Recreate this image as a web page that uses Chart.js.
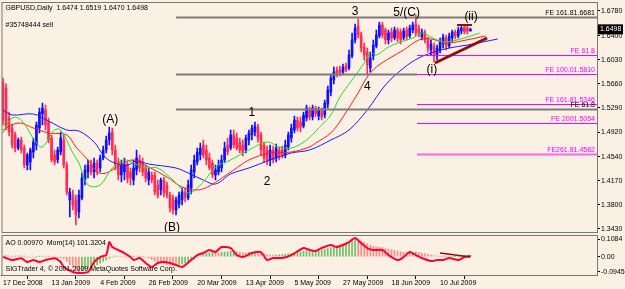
<!DOCTYPE html>
<html>
<head>
<meta charset="utf-8">
<script src="https://cdn.jsdelivr.net/npm/chart.js@4.4.1/dist/chart.umd.min.js"></script>
<style>
html, body { margin: 0; padding: 0; background: #faf0e4; }
#wrap { position: relative; width: 625px; height: 289px; overflow: hidden; background: #faf0e4; }
#main { position: absolute; left: 0; top: 0; }
#sub { position: absolute; left: 0; top: 233px; }
</style>
</head>
<body>
<div id="wrap">
  <canvas id="main" width="625" height="233"></canvas>
  <canvas id="sub" width="625" height="56"></canvas>
</div>
<script>
// GBPUSD daily bars, 17 Dec 2008 .. 23 Jul 2009
const barOpen = [
  1.5689,1.5597,1.5135,1.4982,1.4874,1.4674,1.4797,1.4674,1.4413,1.4459,
  1.4613,1.4720,1.4982,1.5197,1.5258,1.5074,1.4828,1.4567,1.4490,1.4613,
  1.4797,1.4413,1.3875,1.3952,1.3875,1.3691,1.3906,1.4183,1.4305,1.4413,
  1.4305,1.4444,1.4367,1.4521,1.4644,1.4797,1.4920,1.4644,1.4459,1.4260,
  1.4305,1.4413,1.4305,1.4183,1.4336,1.4490,1.4444,1.4367,1.4183,1.4260,
  1.4260,1.4106,1.4029,1.4183,1.4106,1.3952,1.3906,1.3722,1.3814,1.3875,
  1.3998,1.3906,1.4060,1.4305,1.4459,1.4567,1.4720,1.4644,1.4521,1.4444,
  1.4260,1.4305,1.4367,1.4490,1.4720,1.4674,1.4874,1.4828,1.4766,1.4720,
  1.4644,1.4797,1.4874,1.4920,1.4997,1.4874,1.4720,1.4644,1.4490,1.4644,
  1.4521,1.4644,1.4644,1.4567,1.4690,1.4828,1.4951,1.5105,1.5074,1.5013,
  1.5135,1.5258,1.5151,1.5289,1.5166,1.5243,1.5182,1.5350,1.5535,1.5720,
  1.5873,1.5873,1.5842,1.5935,1.5904,1.6088,1.6334,1.6549,1.6411,1.6227,
  1.6150,1.5904,1.6088,1.6242,1.6396,1.6565,1.6488,1.6334,1.6457,1.6365,
  1.6488,1.6457,1.6365,1.6488,1.6396,1.6488,1.6580,1.6519,1.6380,1.6442,
  1.6334,1.6181,1.6242,1.6088,1.6181,1.6273,1.6365,1.6242,1.6365,1.6457,
  1.6396,1.6473,1.6534,1.6519,1.6474
];
const barHigh = [
  1.5750,1.5659,1.5227,1.5044,1.4920,1.4828,1.4843,1.4720,1.4598,1.4674,
  1.4828,1.5074,1.5289,1.5366,1.5335,1.5135,1.4874,1.4644,1.4690,1.4920,
  1.4874,1.4459,1.4060,1.4029,1.3952,1.4029,1.4290,1.4413,1.4490,1.4490,
  1.4521,1.4490,1.4567,1.4705,1.4859,1.4997,1.4982,1.4720,1.4521,1.4490,
  1.4521,1.4459,1.4367,1.4490,1.4644,1.4567,1.4521,1.4413,1.4367,1.4305,
  1.4305,1.4183,1.4213,1.4229,1.4152,1.3998,1.3952,1.3921,1.3998,1.4060,
  1.4060,1.4183,1.4413,1.4567,1.4674,1.4751,1.4797,1.4720,1.4598,1.4490,
  1.4413,1.4490,1.4567,1.4766,1.4828,1.4951,1.4951,1.4905,1.4828,1.4797,
  1.4874,1.4951,1.5028,1.5074,1.5044,1.4920,1.4766,1.4705,1.4720,1.4705,
  1.4736,1.4690,1.4705,1.4797,1.4920,1.5044,1.5166,1.5151,1.5151,1.5227,
  1.5335,1.5304,1.5335,1.5320,1.5304,1.5289,1.5412,1.5627,1.5812,1.5919,
  1.5919,1.5935,1.5965,1.5981,1.6181,1.6442,1.6580,1.6657,1.6457,1.6288,
  1.6211,1.6150,1.6334,1.6488,1.6611,1.6611,1.6519,1.6488,1.6519,1.6534,
  1.6519,1.6503,1.6519,1.6534,1.6565,1.6611,1.6718,1.6565,1.6503,1.6488,
  1.6380,1.6334,1.6288,1.6257,1.6365,1.6426,1.6411,1.6442,1.6488,1.6488,
  1.6534,1.6565,1.6565,1.6549,1.6519
];
const barLow = [
  1.5028,1.4951,1.4859,1.4674,1.4613,1.4644,1.4598,1.4367,1.4336,1.4336,
  1.4521,1.4644,1.4905,1.5028,1.4951,1.4751,1.4459,1.4413,1.4444,1.4567,
  1.4367,1.3952,1.3614,1.3722,1.3491,1.3599,1.3875,1.4106,1.4213,1.4260,
  1.4213,1.4260,1.4305,1.4490,1.4598,1.4720,1.4567,1.4336,1.4183,1.4152,
  1.4183,1.4137,1.4106,1.4106,1.4260,1.4305,1.4244,1.4152,1.4106,1.4137,
  1.3952,1.3906,1.3952,1.3921,1.3906,1.3691,1.3660,1.3645,1.3752,1.3798,
  1.3845,1.3875,1.3967,1.4213,1.4413,1.4490,1.4521,1.4413,1.4336,1.4213,
  1.4183,1.4260,1.4305,1.4444,1.4567,1.4644,1.4674,1.4644,1.4598,1.4551,
  1.4598,1.4720,1.4797,1.4859,1.4766,1.4567,1.4459,1.4413,1.4398,1.4444,
  1.4459,1.4490,1.4521,1.4521,1.4644,1.4766,1.4905,1.4936,1.4920,1.4982,
  1.5089,1.5105,1.5105,1.5151,1.5105,1.5105,1.5135,1.5289,1.5474,1.5658,
  1.5766,1.5781,1.5796,1.5842,1.5873,1.6058,1.6288,1.6365,1.6150,1.6027,
  1.5796,1.5842,1.6027,1.6211,1.6365,1.6365,1.6273,1.6273,1.6303,1.6334,
  1.6303,1.6273,1.6334,1.6334,1.6365,1.6442,1.6396,1.6380,1.6334,1.6288,
  1.6150,1.6104,1.5996,1.6027,1.6134,1.6211,1.6181,1.6211,1.6303,1.6350,
  1.6365,1.6426,1.6426,1.6426,1.6470
];
const barClose = [
  1.5105,1.4997,1.4920,1.4720,1.4674,1.4797,1.4644,1.4413,1.4567,1.4644,
  1.4766,1.5028,1.5227,1.5289,1.5028,1.4797,1.4490,1.4459,1.4644,1.4828,
  1.4413,1.3998,1.3998,1.3798,1.3645,1.3952,1.4213,1.4336,1.4413,1.4305,
  1.4444,1.4336,1.4521,1.4644,1.4797,1.4905,1.4644,1.4413,1.4260,1.4413,
  1.4413,1.4213,1.4213,1.4367,1.4521,1.4367,1.4305,1.4213,1.4305,1.4183,
  1.3998,1.3952,1.4183,1.3983,1.3952,1.3752,1.3722,1.3875,1.3952,1.3998,
  1.3906,1.4106,1.4336,1.4490,1.4613,1.4674,1.4567,1.4490,1.4367,1.4260,
  1.4336,1.4413,1.4490,1.4674,1.4613,1.4874,1.4720,1.4674,1.4644,1.4598,
  1.4828,1.4905,1.4982,1.5013,1.4828,1.4644,1.4521,1.4490,1.4644,1.4490,
  1.4674,1.4536,1.4567,1.4720,1.4874,1.4982,1.5105,1.4982,1.4997,1.5182,
  1.5289,1.5151,1.5289,1.5197,1.5258,1.5151,1.5366,1.5566,1.5750,1.5842,
  1.5812,1.5827,1.5919,1.5873,1.6104,1.6334,1.6519,1.6411,1.6211,1.6104,
  1.5950,1.6058,1.6257,1.6411,1.6565,1.6411,1.6334,1.6442,1.6365,1.6488,
  1.6365,1.6334,1.6473,1.6380,1.6519,1.6565,1.6442,1.6426,1.6457,1.6334,
  1.6211,1.6273,1.6088,1.6211,1.6303,1.6380,1.6242,1.6396,1.6457,1.6396,
  1.6488,1.6519,1.6457,1.6473,1.6498
];

// Alligator lines, [bar, price] read at intervals (shifted lines run past the last bar)
const lips = [[0,1.4905],[3,1.5135],[6,1.5105],[11,1.4751],[13,1.4690],[17,1.4951],[19,1.4951],
  [23,1.4598],[25,1.4444],[28,1.4106],[32,1.4106],[36,1.4367],[40,1.4490],[43,1.4444],[47,1.4367],
  [51,1.4367],[56,1.4183],[61,1.3983],[66,1.4152],[70,1.4382],[75,1.4490],[81,1.4644],[87,1.4766],
  [91,1.4690],[95,1.4674],[100,1.4797],[104,1.4982],[108,1.5182],[111,1.5458],[115,1.5720],
  [119,1.5981],[121,1.6134],[123,1.6104],[127,1.6227],[131,1.6303],[135,1.6365],[138,1.6442],
  [141,1.6380],[145,1.6303],[148,1.6319],[152,1.6365],[157,1.6442]];
const teeth = [[0,1.4951],[5,1.5059],[10,1.4982],[15,1.4905],[21,1.4874],[24,1.4690],[28,1.4490],
  [31,1.4305],[34,1.4290],[39,1.4428],[43,1.4490],[48,1.4382],[54,1.4229],[59,1.4075],[64,1.4029],
  [68,1.4091],[76,1.4336],[81,1.4490],[88,1.4598],[95,1.4613],[101,1.4690],[103,1.4751],[108,1.4905],
  [112,1.5151],[117,1.5520],[120,1.5766],[123,1.5919],[128,1.6073],[132,1.6181],[137,1.6334],
  [141,1.6350],[146,1.6288],[151,1.6319],[159,1.6396]];
const jaw = [[0,1.5258],[3,1.5182],[10,1.5197],[15,1.5089],[21,1.4951],[25,1.4936],[30,1.4766],
  [33,1.4567],[36,1.4459],[41,1.4413],[44,1.4475],[48,1.4428],[57,1.4367],[61,1.4290],[66,1.4183],
  [70,1.4121],[75,1.4275],[81,1.4367],[88,1.4490],[95,1.4598],[101,1.4644],[108,1.4797],[114,1.4951],
  [120,1.5258],[126,1.5643],[132,1.5904],[137,1.6058],[142,1.6150],[147,1.6211],[153,1.6257],
  [158,1.6303],[163,1.6350]];

// Awesome Oscillator, one value per bar
const aoVals = [
  0.004,0.006,0.004,0.002,0.003,0.005,0.004,0.001,-0.002,-0.004,
  -0.003,-0.001,0.002,0.004,0.003,0.001,-0.002,-0.006,-0.008,-0.007,
  -0.012,-0.030,-0.050,-0.068,-0.082,-0.0945,-0.088,-0.080,-0.072,-0.066,
  -0.058,-0.050,-0.040,-0.030,-0.020,-0.010,-0.004,0.002,0.004,0.002,
  -0.001,-0.003,-0.002,0.001,0.003,0.002,0.000,-0.004,-0.010,-0.018,
  -0.026,-0.034,-0.040,-0.044,-0.048,-0.052,-0.054,-0.055,-0.052,-0.046,
  -0.040,-0.033,-0.025,-0.015,-0.004,0.006,0.014,0.020,0.024,0.026,
  0.025,0.024,0.026,0.028,0.030,0.032,0.033,0.031,0.028,0.025,
  0.024,0.026,0.028,0.030,0.027,0.022,0.016,0.012,0.010,0.009,
  0.010,0.011,0.012,0.014,0.017,0.021,0.025,0.028,0.030,0.032,
  0.035,0.036,0.038,0.040,0.041,0.042,0.045,0.050,0.056,0.062,
  0.068,0.072,0.078,0.084,0.090,0.098,0.1084,0.104,0.096,0.088,
  0.078,0.070,0.064,0.060,0.058,0.055,0.050,0.046,0.042,0.038,
  0.034,0.030,0.027,0.025,0.024,0.026,0.028,0.027,0.022,0.018,
  0.014,0.010,0.007,0.004,0.002,0.001,0.000,-0.001,0.000,0.002,
  0.004,0.006,0.007,0.008,0.0097
];
// Momentum(14), [bar, value]
const mom = [[0,100.8],[1,100.3],[3,99.3],[6,100.2],[8,98.3],[10,99.3],[12,98.3],[14,99.3],[17,100.2],
  [19,98.3],[20,95.8],[23,93.3],[25,92.8],[28,93.3],[30,98.3],[32,100.8],[34,101.8],[35,108.3],
  [36,105.8],[38,104.3],[40,102.8],[42,100.8],[43,99.3],[45,100.3],[47,97.8],[49,95.8],[51,97.8],
  [53,98.3],[55,97.8],[57,96.8],[59,95.8],[62,99.3],[64,101.8],[66,102.8],[68,104.3],[70,103.3],
  [72,105.8],[75,105.3],[77,101.8],[79,100.8],[82,102.8],[85,103.3],[87,99.3],[89,100.3],[92,100.3],
  [95,101.8],[99,105.3],[101,104.3],[103,103.8],[105,105.3],[108,106.8],[110,105.8],[112,106.8],
  [114,108.3],[116,110.3],[118,107.8],[120,105.3],[122,104.3],[125,104.3],[127,101.8],[130,99.3],
  [132,100.8],[134,103.3],[136,101.8],[138,100.3],[141,98.8],[143,99.3],[145,99.3],[147,100.3],
  [150,99.3],[152,100.8],[154,101.3]];

// axis ticks
const priceTicks = [1.6780, 1.6400, 1.6030, 1.5660, 1.5290, 1.4920, 1.4540, 1.4170, 1.3800, 1.3430];
const aoTicks = [0.1084, 0, -0.09454];
const aoTickText = ['0.1084', '0.00', '-0.09454'];
const dateTickIdx = [0, 16, 32, 48, 64, 80, 96, 112, 128, 144];
const dateLabels = ['17 Dec 2008', '13 Jan 2009', '4 Feb 2009', '26 Feb 2009', '20 Mar 2009',
  '13 Apr 2009', '5 May 2009', '27 May 2009', '18 Jun 2009', '10 Jul 2009'];

// Fibo expansion levels: price, first bar, last bar (null = to the right edge)
const levelPrice = [1.6681, 1.5810, 1.5272, 1.6097, 1.5810, 1.5346, 1.5054, 1.4582];
const levelFrom = [57, 57, 57, 136.4, 136.4, 136.4, 136.4, 136.4];
const levelTo = [null, 136.4, null, null, null, null, null, null];
const levelText = ['FE 161.81.6681', '', 'FE 61.8', 'FE 61.8', 'FE 100.01.5810', 'FE 161.81.5346',
  'FE 2001.5054', 'FE261.81.4582'];
const levelKind = ['grey', 'grey', 'grey', 'fe', 'fe', 'fe', 'fe', 'fe'];

// Elliott wave marks: text, bar, price
const waveText = ['3', '5/(C)', '(ii)', '4', '(i)', '1', '2', '(A)', '(B)'];
const waveBar = [116, 133, 154.2, 120, 141.3, 82, 87, 35.3, 55.7];
const wavePrice = [1.6765, 1.6749, 1.6688, 1.5612, 1.5873, 1.5212, 1.4152, 1.5105, 1.3445];

// trend lines: [bar1, price1, bar2, price2]
const trendMain = [[142.3, 1.5981, 159.5, 1.6365], [149.6, 1.6565, 154.5, 1.6565]];
const trendMom = [[144, 102.8, 154, 100.8]];

const lastPrice = 1.6498;

Chart.defaults.font.family = 'Liberation Sans';
Chart.defaults.font.size = 7;
Chart.defaults.color = '#000';

const BULL = '#1010ff';
const BEAR = '#ff2d55';
const candleColors = barOpen.map((o, i) => barClose[i] >= o ? BULL : BEAR);
const aoColors = aoVals.map((v, i) => (i === 0 || v > aoVals[i - 1]) ? 'rgba(0,150,0,0.55)' : 'rgba(255,40,40,0.5)');

const pts = arr => arr.map(p => ({ x: p[0], y: p[1] }));

// Fibo lines, labels, wave marks and trendlines on the price window
const mainDecor = {
  id: 'mainDecor',
  afterDatasetsDraw(chart) {
    const { ctx, chartArea: a, scales: { x, y } } = chart;
    ctx.save();
    ctx.beginPath();
    ctx.rect(a.left, a.top, a.right - a.left, a.bottom - a.top);
    ctx.clip();

    levelPrice.forEach((p, k) => {
      const py = Math.round(y.getPixelForValue(p));
      const x1 = x.getPixelForValue(levelFrom[k]);
      const x2 = levelTo[k] === null ? a.right : x.getPixelForValue(levelTo[k]);
      if (levelKind[k] === 'grey') {
        ctx.strokeStyle = '#7c7c7c';
        ctx.lineWidth = 2;
      } else {
        ctx.strokeStyle = k === 7 ? '#ff66dd' : '#ff00ff';
        ctx.lineWidth = k === 7 ? 2 : 1;
      }
      ctx.beginPath();
      ctx.moveTo(x1, py + 0.5);
      ctx.lineTo(x2, py + 0.5);
      ctx.stroke();
    });
    ctx.font = '7px Liberation Sans';
    ctx.textAlign = 'right';
    ctx.textBaseline = 'bottom';
    levelPrice.forEach((p, k) => {
      if (!levelText[k]) return;
      ctx.fillStyle = levelKind[k] === 'grey' ? '#000' : '#ff00ff';
      ctx.fillText(levelText[k], a.right - 2, Math.round(y.getPixelForValue(p)) - 0.5);
    });

    ctx.strokeStyle = '#8b1010';
    trendMain.forEach((t, k) => {
      ctx.lineWidth = k === 0 ? 3 : 2;
      ctx.beginPath();
      ctx.moveTo(x.getPixelForValue(t[0]), y.getPixelForValue(t[1]));
      ctx.lineTo(x.getPixelForValue(t[2]), y.getPixelForValue(t[3]));
      ctx.stroke();
    });

    ctx.font = '12px Liberation Sans';
    ctx.textAlign = 'center';
    ctx.textBaseline = 'middle';
    ctx.fillStyle = '#000';
    waveText.forEach((t, k) => {
      ctx.fillText(t, x.getPixelForValue(waveBar[k]), y.getPixelForValue(wavePrice[k]));
    });
    ctx.restore();

    ctx.save();
    ctx.strokeStyle = '#777';
    ctx.lineWidth = 1;
    ctx.strokeRect(a.left + 0.5, a.top - 0.5, a.right - a.left, a.bottom - a.top + 1);
    ctx.font = '7px Liberation Sans';
    ctx.fillStyle = '#000';
    ctx.textAlign = 'left';
    ctx.textBaseline = 'middle';
    ctx.fillText('GBPUSD,Daily  1.6474 1.6519 1.6470 1.6498', a.left + 4, 8);
    ctx.fillText('#35748444 sell', a.left + 4, 25);
    const py = y.getPixelForValue(lastPrice);
    ctx.fillStyle = '#000';
    ctx.fillRect(a.right + 1, py - 5, 25, 10);
    ctx.fillStyle = '#fff';
    ctx.fillText(lastPrice.toFixed(4), a.right + 3, py);
    ctx.restore();
  }
};

const subDecor = {
  id: 'subDecor',
  afterDatasetsDraw(chart) {
    const { ctx, chartArea: a, scales: { x, ym } } = chart;
    ctx.save();
    ctx.strokeStyle = '#8b1010';
    ctx.lineWidth = 1.5;
    trendMom.forEach(t => {
      ctx.beginPath();
      ctx.moveTo(x.getPixelForValue(t[0]), ym.getPixelForValue(t[1]));
      ctx.lineTo(x.getPixelForValue(t[2]), ym.getPixelForValue(t[3]));
      ctx.stroke();
    });
    ctx.strokeStyle = '#777';
    ctx.lineWidth = 1;
    ctx.strokeRect(a.left + 0.5, a.top + 0.5, a.right - a.left, a.bottom - a.top);
    ctx.font = '7px Liberation Sans';
    ctx.fillStyle = '#000';
    ctx.textAlign = 'left';
    ctx.textBaseline = 'middle';
    ctx.fillText('AO 0.00970  Mom(14) 101.3204', a.left + 4, 10);
    ctx.fillText('SIGTrader 4, \u00a9 2001-2009 MetaQuotes Software Corp.', a.left + 4, 36);
    ctx.restore();
  }
};

new Chart(document.getElementById('main'), {
  type: 'bar',
  data: {
    datasets: [
      { type: 'line', data: pts(lips), borderColor: '#22dd22', borderWidth: 1, pointRadius: 0, tension: 0.35, order: 0 },
      { type: 'line', data: pts(teeth), borderColor: '#ff1a1a', borderWidth: 1, pointRadius: 0, tension: 0.35, order: 0 },
      { type: 'line', data: pts(jaw), borderColor: '#1a1aff', borderWidth: 1, pointRadius: 0, tension: 0.35, order: 0 },
      { type: 'bar', data: barOpen.map((o, i) => ({ x: i, y: [o, barClose[i]] })), backgroundColor: candleColors,
        barThickness: 2, minBarLength: 1, grouped: false, order: 1 },
      { type: 'bar', data: barOpen.map((o, i) => ({ x: i, y: [barLow[i], barHigh[i]] })), backgroundColor: candleColors,
        barThickness: 1, grouped: false, order: 2 }
    ]
  },
  options: {
    responsive: false,
    animation: false,
    layout: { padding: { left: 1.5, top: 3, right: 0, bottom: 1 } },
    plugins: { legend: { display: false }, tooltip: { enabled: false } },
    scales: {
      x: { type: 'linear', min: -0.5, max: 195.7, display: false, offset: false },
      y: {
        position: 'right', min: 1.33836, max: 1.69029,
        afterBuildTicks: s => { s.ticks = priceTicks.map(v => ({ value: v })); },
        afterFit: s => { s.width = 28; s.paddingTop = 0; s.paddingBottom = 0; },
        grid: { drawOnChartArea: false, drawTicks: true, tickLength: 3, color: '#000' },
        border: { display: true, color: '#000' },
        ticks: { padding: 1, autoSkip: false, callback: v => v.toFixed(4) }
      }
    }
  },
  plugins: [mainDecor]
});

new Chart(document.getElementById('sub'), {
  type: 'bar',
  data: {
    datasets: [
      { type: 'line', yAxisID: 'ym', data: pts(mom), borderColor: '#ff0033', borderWidth: 2, pointRadius: 0, tension: 0.2, order: 0 },
      { type: 'bar', yAxisID: 'y', data: aoVals.map((v, i) => ({ x: i, y: v })), backgroundColor: aoColors,
        barThickness: 1, grouped: false, order: 1 }
    ]
  },
  options: {
    responsive: false,
    animation: false,
    layout: { padding: { left: 1.5, top: 2, right: 0, bottom: 0 } },
    plugins: { legend: { display: false }, tooltip: { enabled: false } },
    scales: {
      x: {
        type: 'linear', min: -0.5, max: 195.7, position: 'bottom', offset: false,
        afterBuildTicks: s => { s.ticks = dateTickIdx.map(v => ({ value: v })); },
        afterFit: s => { s.height = 14; s.paddingLeft = 0; s.paddingRight = 0; },
        grid: { drawOnChartArea: false, drawTicks: true, tickLength: 4, color: '#000' },
        border: { display: true, color: '#000' },
        ticks: { align: 'start', padding: 0, maxRotation: 0, autoSkip: false, callback: (v, i) => dateLabels[i] }
      },
      y: {
        position: 'right', min: -0.113, max: 0.133,
        afterBuildTicks: s => { s.ticks = aoTicks.map(v => ({ value: v })); },
        afterFit: s => { s.width = 28; s.paddingTop = 0; s.paddingBottom = 0; },
        grid: { drawOnChartArea: false, drawTicks: true, tickLength: 3, color: '#000' },
        border: { display: true, color: '#000' },
        ticks: { padding: 1, autoSkip: false, callback: (v, i) => aoTickText[i] }
      },
      ym: { display: false, min: 91.82, max: 111.82 }
    }
  },
  plugins: [subDecor]
});
</script>
</body>
</html>
